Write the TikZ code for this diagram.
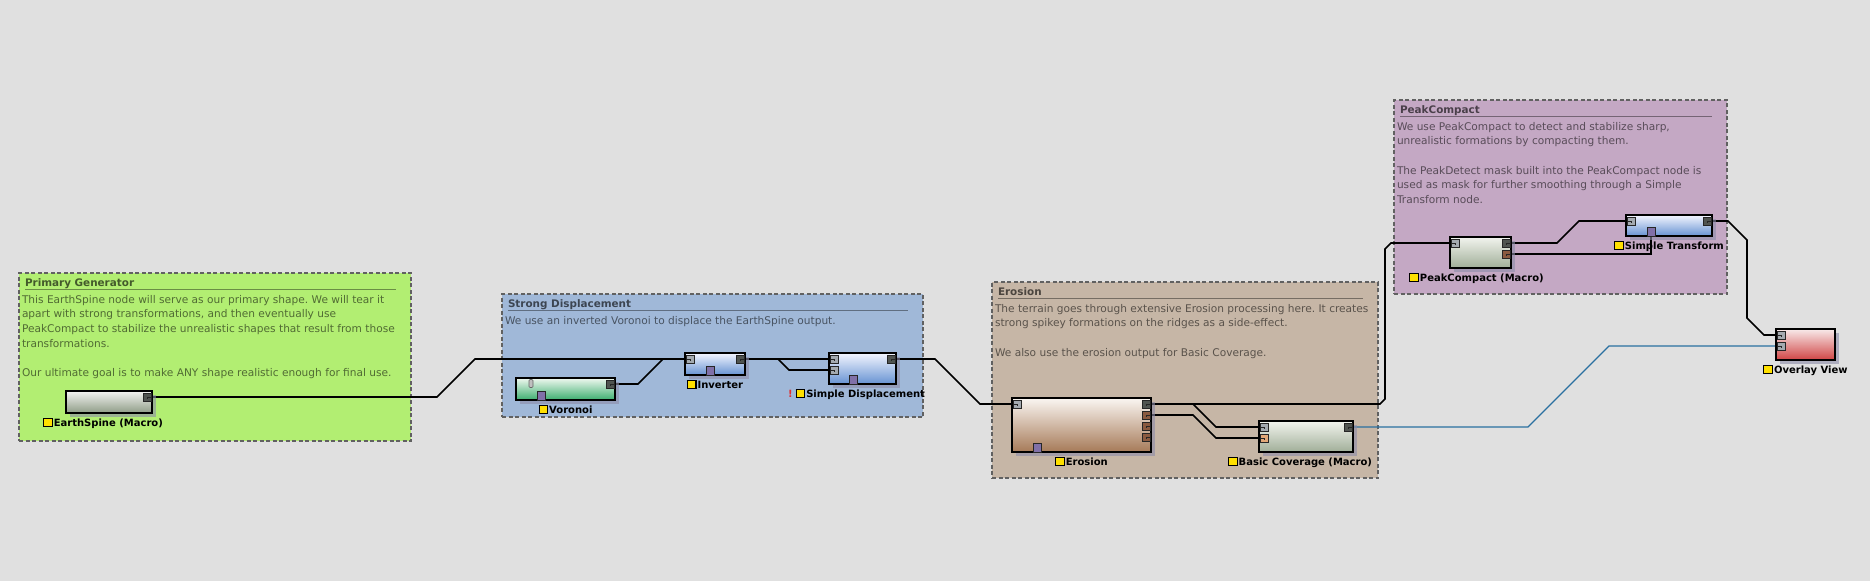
\documentclass[tikz,border=0pt]{standalone}
\usepackage{fontspec}
\setmainfont{DejaVu Sans}
\usepackage{tikz}
\usetikzlibrary{shadows, calc, positioning}

\definecolor{canvas}{HTML}{E0E0E0}
\definecolor{pgfill}{HTML}{B2EE72}
\definecolor{sdfill}{HTML}{A0B8D8}
\definecolor{erfill}{HTML}{C6B6A6}
\definecolor{pcfill}{HTML}{C4A8C4}
\definecolor{esTop}{HTML}{F4F4F2}
\definecolor{esBot}{HTML}{8E9C86}
\definecolor{voTop}{HTML}{F0F8F0}
\definecolor{voBot}{HTML}{3CAE6E}
\definecolor{blTop}{HTML}{F4F6FF}
\definecolor{blBot}{HTML}{6692D2}
\definecolor{erTop}{HTML}{FAF6F2}
\definecolor{erBot}{HTML}{A67A58}
\definecolor{bcTop}{HTML}{F2F4EE}
\definecolor{bcBot}{HTML}{A0AE98}
\definecolor{ovTop}{HTML}{F8EAEA}
\definecolor{ovBot}{HTML}{D04444}
\definecolor{shadowcol}{HTML}{8C8CA8}
\definecolor{portgrey}{HTML}{A4AAB0}
\definecolor{portdark}{HTML}{505450}
\definecolor{portbrown}{HTML}{8A5A40}
\definecolor{porttan}{HTML}{E2A878}
\definecolor{portpurple}{HTML}{8070A8}
\definecolor{flagyellow}{HTML}{FFE000}
\definecolor{bluewire}{HTML}{2A70A0}
\definecolor{warnred}{HTML}{E03030}

\setlength{\fboxsep}{0pt}
\setlength{\fboxrule}{1.1pt}
\newcommand{\nodeflag}{\fcolorbox{black}{flagyellow}{\rule{0pt}{7.5pt}\rule{7.5pt}{0pt}}\hspace{1pt}}
\frenchspacing

\pgfdeclarelayer{groups}
\pgfdeclarelayer{wires}
\pgfsetlayers{groups,wires,main}

\begin{document}
\begin{tikzpicture}[
  x=1pt, y=-1pt,
  every node/.style={inner sep=0pt, outer sep=0pt},
  group/.style={draw=black!62, fill=#1, dash pattern=on 4pt off 2.5pt, line width=1.3pt, anchor=north west},
  grouptitle/.style={font=\fontsize{10.4}{12}\selectfont\bfseries, text=black, text opacity=0.62, anchor=base west},
  titlerule/.style={draw=black, draw opacity=0.4, line width=1pt},
  groupnote/.style={font=\fontsize{10.6}{14.7}\selectfont, text=black, text opacity=0.55, align=left, anchor=north west},
  gnode/.style 2 args={draw=black, line width=2.2pt, anchor=north west, top color=#1, bottom color=#2,
    drop shadow={shadow xshift=4pt, shadow yshift=-4pt, fill=shadowcol, opacity=0.6}},
  lab/.style={font=\fontsize{10}{12}\selectfont\bfseries, yshift=-4.5pt},
  port/.style={draw=black!85, line width=0.9pt, minimum size=8pt, fill=#1},
  inport/.style={port=portgrey, path picture={\draw[line width=1pt] (path picture bounding box.west) -- (path picture bounding box.center) -- ++(0,-2pt);}},
  outport/.style={port=#1, path picture={\draw[line width=1pt] (path picture bounding box.east) -- (path picture bounding box.center) -- ++(0,-2pt);}},
  outport/.default=portdark,
  mport/.style={draw=black!85, line width=0.9pt, minimum width=8pt, minimum height=9pt, fill=portpurple, anchor=south},
  vtab/.style={draw=black!60, line width=0.6pt, rounded corners=1pt, minimum width=4pt, minimum height=8pt, fill=black!25, anchor=north},
  wire/.style={draw=black, line width=1.6pt},
  bwire/.style={draw=bluewire, line width=1.3pt}
]

% canvas and groups
\begin{pgfonlayer}{groups}
\fill[canvas] (0,0) rectangle (1870,581);
\useasboundingbox (0,0) rectangle (1870,581);

\node[group=pgfill, minimum width=392pt, minimum height=168pt] (pg) at (19,273) {};
\node[grouptitle] (pg-title) at ($(pg.north west)+(6,13)$) {Primary Generator};
\draw[titlerule] ($(pg.north west)+(6,16)$) -- ($(pg.north east)+(-15,16)$);
\node[groupnote] (pg-note) at ($(pg.north west)+(3,22)$) {This EarthSpine node will serve as our primary shape. We will tear it\\
apart with strong transformations, and then eventually use\\
PeakCompact to stabilize the unrealistic shapes that result from those\\
transformations.\\[14.7pt]
Our ultimate goal is to make ANY shape realistic enough for final use.};

\node[group=sdfill, minimum width=421pt, minimum height=123pt] (sd) at (502,294) {};
\node[grouptitle] (sd-title) at ($(sd.north west)+(6,13)$) {Strong Displacement};
\draw[titlerule] ($(sd.north west)+(6,16)$) -- ($(sd.north east)+(-15,16)$);
\node[groupnote] (sd-note) at ($(sd.north west)+(3,22)$) {We use an inverted Voronoi to displace the EarthSpine output.};

\node[group=erfill, minimum width=386pt, minimum height=196pt] (er) at (992,282) {};
\node[grouptitle] (er-title) at ($(er.north west)+(6,13)$) {Erosion};
\draw[titlerule] ($(er.north west)+(6,16)$) -- ($(er.north east)+(-15,16)$);
\node[groupnote] (er-note) at ($(er.north west)+(3,22)$) {The terrain goes through extensive Erosion processing here. It creates\\
strong spikey formations on the ridges as a side-effect.\\[14.7pt]
We also use the erosion output for Basic Coverage.};

\node[group=pcfill, minimum width=333pt, minimum height=194pt] (pc) at (1394,100) {};
\node[grouptitle] (pc-title) at ($(pc.north west)+(6,13)$) {PeakCompact};
\draw[titlerule] ($(pc.north west)+(6,16)$) -- ($(pc.north east)+(-15,16)$);
\node[groupnote] (pc-note) at ($(pc.north west)+(3,22)$) {We use PeakCompact to detect and stabilize sharp,\\
unrealistic formations by compacting them.\\[14.7pt]
The PeakDetect mask built into the PeakCompact node is\\
used as mask for further smoothing through a Simple\\
Transform node.};
\end{pgfonlayer}

% graph nodes
\node[gnode={esTop}{esBot}, minimum width=86pt, minimum height=22pt,
  label={[lab, xshift=-6pt]below:{\nodeflag EarthSpine (Macro)}}] (es) at (66,391) {};
\node[gnode={voTop}{voBot}, minimum width=99pt, minimum height=22pt,
  label={[lab]below:{\nodeflag Voronoi}}] (vo) at (516,378) {};
\node[gnode={blTop}{blBot}, minimum width=60pt, minimum height=22pt,
  label={[lab]below:{\nodeflag Inverter}}] (inv) at (685,353) {};
\node[gnode={blTop}{blBot}, minimum width=67pt, minimum height=31pt,
  label={[lab, xshift=-6pt]below:{\textcolor{warnred}{!}\hspace{3pt}\nodeflag Simple Displacement}}] (sdn) at (829,353) {};
\node[gnode={erTop}{erBot}, minimum width=139pt, minimum height=54pt,
  label={[lab]below:{\nodeflag Erosion}}] (ern) at (1012,398) {};
\node[gnode={bcTop}{bcBot}, minimum width=94pt, minimum height=31pt,
  label={[lab, xshift=-6pt]below:{\nodeflag Basic Coverage (Macro)}}] (bc) at (1259,421) {};
\node[gnode={bcTop}{bcBot}, minimum width=61pt, minimum height=31pt,
  label={[lab, xshift=-4pt]below:{\nodeflag PeakCompact (Macro)}}] (pcn) at (1450,237) {};
\node[gnode={blTop}{blBot}, minimum width=86pt, minimum height=21pt,
  label={[lab]below:{\nodeflag Simple Transform}}] (st) at (1626,215) {};
\node[gnode={ovTop}{ovBot}, minimum width=59pt, minimum height=31pt,
  label={[lab]below:{\nodeflag Overlay View}}] (ov) at (1776,329) {};

% ports
\node[outport] (es-o) at ([shift={(-5,6)}]es.north east) {};
\node[outport] (vo-o) at ([shift={(-5,6)}]vo.north east) {};
\node[vtab] (vo-t) at ([shift={(15,1.5)}]vo.north west) {};
\node[mport] (vo-m) at ([xshift=25pt]vo.south west) {};
\node[inport] (inv-i) at ([shift={(5,6)}]inv.north west) {};
\node[outport] (inv-o) at ([shift={(-5,6)}]inv.north east) {};
\node[mport] (inv-m) at ([xshift=25pt]inv.south west) {};
\node[inport] (sd-i1) at ([shift={(5,6)}]sdn.north west) {};
\node[inport] (sd-i2) at ([shift={(5,17)}]sdn.north west) {};
\node[outport] (sd-o) at ([shift={(-5,6)}]sdn.north east) {};
\node[mport] (sd-m) at ([xshift=24pt]sdn.south west) {};
\node[inport] (er-i) at ([shift={(5,6)}]ern.north west) {};
\node[outport] (er-o1) at ([shift={(-5,6)}]ern.north east) {};
\node[outport=portbrown] (er-o2) at ([shift={(-5,17)}]ern.north east) {};
\node[outport=portbrown] (er-o3) at ([shift={(-5,28)}]ern.north east) {};
\node[outport=portbrown] (er-o4) at ([shift={(-5,39)}]ern.north east) {};
\node[mport] (er-m) at ([xshift=25pt]ern.south west) {};
\node[inport] (bc-i1) at ([shift={(5,6)}]bc.north west) {};
\node[inport, fill=porttan] (bc-i2) at ([shift={(5,17)}]bc.north west) {};
\node[outport] (bc-o) at ([shift={(-5,6)}]bc.north east) {};
\node[inport] (pc-i) at ([shift={(5,6)}]pcn.north west) {};
\node[outport] (pc-o1) at ([shift={(-5,6)}]pcn.north east) {};
\node[outport=portbrown] (pc-o2) at ([shift={(-5,17)}]pcn.north east) {};
\node[inport] (st-i) at ([shift={(5,6)}]st.north west) {};
\node[outport] (st-o) at ([shift={(-5,6)}]st.north east) {};
\node[mport] (st-m) at ([xshift=25pt]st.south west) {};
\node[inport] (ov-i1) at ([shift={(5,6)}]ov.north west) {};
\node[inport] (ov-i2) at ([shift={(5,17)}]ov.north west) {};

% wires
\begin{pgfonlayer}{wires}
\draw[wire] (es-o.center) -- (437,397) -- (475,359) -- (sd-i1.center);
\draw[wire] (vo-o.center) -- (638,384) -- (663,359) -- (inv-i.center);
\draw[wire] (inv-o.center) -- (778,359) -- (789,370) -- (sd-i2.center);
\draw[wire] (sd-o.center) -- (935,359) -- (980,404) -- (er-i.center);
\draw[wire] (er-o1.center) -- (1380,404) -- (1385,399) -- (1385,249) -- (1391,243) -- (pc-i.center);
\draw[wire] (er-o1.center) -- (1193,404) -- (1216,427) -- (bc-i1.center);
\draw[wire] (er-o2.center) -- (1193,415) -- (1216,438) -- (bc-i2.center);
\draw[bwire] (bc-o.center) -- (1528,427) -- (1609,346) -- (ov-i2.center);
\draw[wire] (pc-o1.center) -- (1557,243) -- (1579,221) -- (st-i.center);
\draw[wire] (pc-o2.center) -- (st-m.center |- pc-o2.center) -- (st-m.center);
\draw[wire] (st-o.center) -- (1728,221) -- (1747,240) -- (1747,318) -- (1764,335) -- (ov-i1.center);
\end{pgfonlayer}

\end{tikzpicture}
\end{document}
